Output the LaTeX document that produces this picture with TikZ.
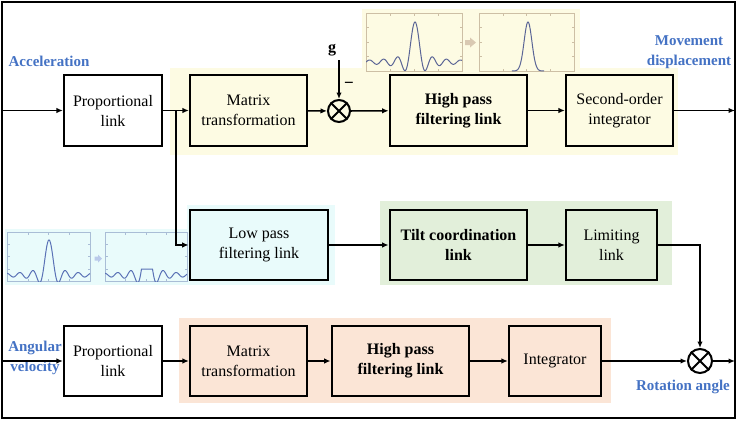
\documentclass[tikz,border=0pt]{standalone}
\usepackage{fontspec}
\setmainfont{Liberation Serif}
\usetikzlibrary{arrows.meta}
\definecolor{bgyel}{HTML}{FDFBE3}
\definecolor{bgcyan}{HTML}{E9FBFB}
\definecolor{bggreen}{HTML}{E2EFDA}
\definecolor{bgorange}{HTML}{FBE5D6}
\definecolor{lblue}{HTML}{4472C4}
\definecolor{tanline}{HTML}{CDBFA5}
\definecolor{tanarrow}{HTML}{D9C9B2}
\definecolor{bluline}{HTML}{A9BDD6}
\definecolor{bluarrow}{HTML}{BACAEA}
\definecolor{curveA}{HTML}{5B6596}
\definecolor{curveB}{HTML}{5A72B6}
\newcommand\pltframe[6]{%
  \draw[fill=#5,draw=#6,line width=0.8pt] (#1,#2) rectangle (#3,#4);
  \foreach \t in {0.25,0.5,0.75}{%
    \draw[#6,line width=0.5pt] ({#1+\t*(#3-#1)},#2) -- ++(0,2.5);
    \draw[#6,line width=0.5pt] ({#1+\t*(#3-#1)},#4) -- ++(0,-2.5);
    \draw[#6,line width=0.5pt] (#1,{#2+\t*(#4-#2)}) -- ++(2.5,0);
    \draw[#6,line width=0.5pt] (#3,{#2+\t*(#4-#2)}) -- ++(-2.5,0);
  }}
\begin{document}
\begin{tikzpicture}[x=1pt,y=-1pt,
  blk/.style={draw, line width=2.2pt, align=center, inner sep=0pt,
    font=\fontsize{16}{20}\selectfont, minimum height=71pt},
  bblk/.style={blk, line width=2.8pt, font=\fontsize{16}{20}\selectfont\bfseries},
  conn/.style={line width=1.6pt, -{Latex[length=6.5pt,width=5.5pt]}},
  sumj/.style={circle, draw, line width=2pt, minimum size=22pt, inner sep=0pt},
  lab/.style={text=lblue, font=\fontsize{15}{20}\selectfont\bfseries, align=center}]
\useasboundingbox (0,0) rectangle (740,421);
\fill[white] (0,0) rectangle (740,421);
% backgrounds
\fill[bgyel] (170,68) rectangle (678,155);
\fill[bgyel] (362,9) rectangle (580,76);
\fill[bgcyan] (187,205) rectangle (335,285);
\fill[bgcyan] (5,229) rectangle (190,285);
\fill[bggreen] (380,201) rectangle (672,285);
\fill[bgorange] (179,318) rectangle (611,403);
% plots top
\pltframe{366}{13}{462}{71}{bgyel}{tanline}
\pltframe{479}{13}{574}{71}{bgyel}{tanline}
\begin{scope}
\clip (366,13) rectangle (462,71);
\draw[curveA,line width=1pt] plot[domain=366:462,samples=220,smooth]
  (\x,{62-40*sin((\x-415.003)*25.714)/((\x-415.003)*0.44880)});
\end{scope}
\begin{scope}
\clip (479,13) rectangle (574,71);
\draw[curveA,line width=1pt] plot[domain=512:544,samples=80,smooth]
  (\x,{71-49*exp(-((\x-528)/5.5)^2)});
\end{scope}
\fill[tanarrow] (465,40) -- (470,40) -- (470,37.5) -- (476,42.5) -- (470,47.5) -- (470,45) -- (465,45) -- cycle;
% plots bottom
\pltframe{7}{232}{90}{281}{bgcyan}{bluline}
\pltframe{105}{232}{187}{281}{bgcyan}{bluline}
\begin{scope}
\clip (7,232) rectangle (90,281);
\draw[curveB,line width=1pt] plot[domain=7:90,samples=220,smooth]
  (\x,{275-35*sin((\x-49.003)*27.66)/((\x-49.003)*0.4828)});
\end{scope}
\begin{scope}
\clip (105,232) rectangle (187,281);
\draw[curveB,line width=1pt] plot[domain=105:187,samples=300]
  (\x,{275-35*min(0.17,sin((\x-147.003)*27.66)/((\x-147.003)*0.4828))});
\end{scope}
\fill[bluarrow] (94.5,256.5) -- (98,256.5) -- (98,254.5) -- (102,258.5) -- (98,262.5) -- (98,260.5) -- (94.5,260.5) -- cycle;
% frame
\draw[line width=2.2pt] (2,2) rectangle (735,418);
% blocks row 1
\node[blk, fill=white, minimum width=98pt] (p1) at (113,110.5) {Proportional\\link};
\node[blk, minimum width=117pt] (m1) at (248.5,110.5) {Matrix\\transformation};
\node[sumj] (j1) at (339,111) {};
\draw[line width=1.8pt] (j1.north west) -- (j1.south east) (j1.north east) -- (j1.south west);
\node[bblk, minimum width=137pt] (h1) at (458.5,110.5) {High pass\\filtering link};
\node[blk, minimum width=107pt] (s1) at (619.5,110.5) {Second-order\\integrator};
% row 2
\node[bblk, minimum width=138pt, minimum height=70pt] (lp) at (259,245) {\mdseries Low pass\\\mdseries filtering link};
\node[bblk, minimum width=137pt, minimum height=70pt] (tc) at (458.5,245) {Tilt coordination\\link};
\node[blk, minimum width=91pt, minimum height=70pt] (lim) at (611.5,245) {Limiting\\link};
% row 3
\node[blk, fill=white, minimum width=98pt, minimum height=70pt] (p2) at (113,361) {Proportional\\link};
\node[blk, minimum width=117pt, minimum height=70pt] (m2) at (248.5,361) {Matrix\\transformation};
\node[bblk, minimum width=137pt, minimum height=70pt] (h2) at (400.5,361) {High pass\\filtering link};
\node[blk, minimum width=92pt, minimum height=70pt] (int) at (555,361) {Integrator};
\node[sumj, minimum size=24pt] (j2) at (700,361) {};
\draw[line width=1.8pt] (j2.north west) -- (j2.south east) (j2.north east) -- (j2.south west);
% labels
\node[lab] (acc) at (49,61) {Acceleration};
\node[lab] (mov) at (689,52) {Movement\\displacement};
\node[lab] (ang) at (35,358) {Angular\\velocity};
\node[lab] (rot) at (683,387) {Rotation angle};
\node[font=\fontsize{16}{20}\selectfont\bfseries] (g) at (332,50) {g};
\node[font=\fontsize{17}{20}\selectfont\bfseries] (minus) at (349,85) {−};
% coordinates
\coordinate (in1) at (2,110.5);
\coordinate (out1) at (735,110.5);
\coordinate (in3) at (2,361);
\coordinate (out3) at (735,361);
\coordinate (br) at (176,110.5);
\coordinate (gtop) at (339,60);
% connectors
\draw[conn] (in1) -- (p1);
\draw[conn] (p1) -- (m1);
\draw[conn] (br) |- (lp.west);
\draw[conn] (m1) -- (j1);
\draw[conn] (gtop) -- (j1);
\draw[conn] (j1) -- (h1);
\draw[conn] (h1) -- (s1);
\draw[conn] (s1) -- (out1);
\draw[conn] (lp) -- (tc);
\draw[conn] (tc) -- (lim);
\draw[conn] (lim.east) -| (j2);
\draw[conn] (in3) -- (p2);
\draw[conn] (p2) -- (m2);
\draw[conn] (m2) -- (h2);
\draw[conn] (h2) -- (int);
\draw[conn] (int) -- (j2);
\draw[conn] (j2) -- (out3);
\end{tikzpicture}
\end{document}
